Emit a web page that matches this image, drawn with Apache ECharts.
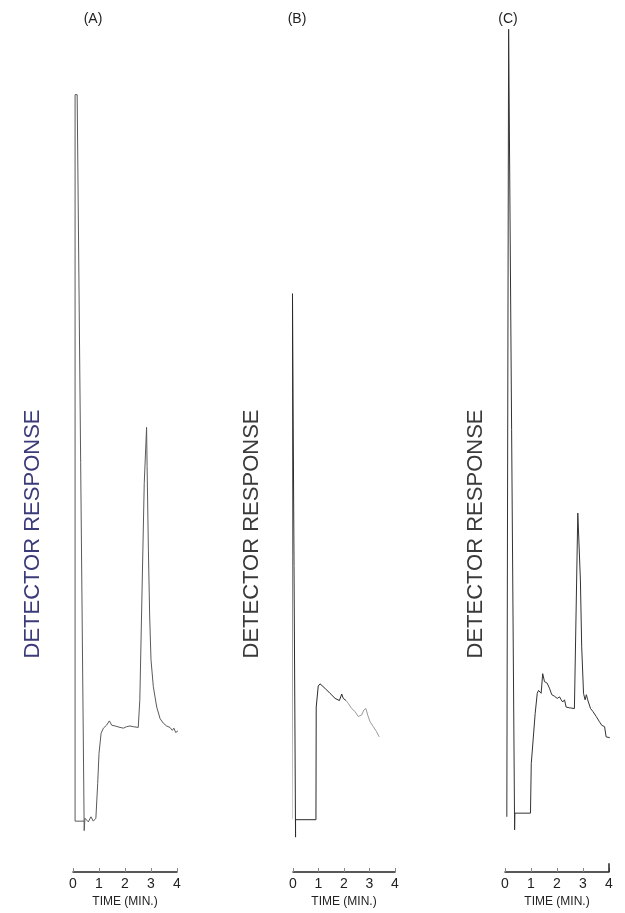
<!DOCTYPE html>
<html>
<head>
<meta charset="utf-8">
<style>
  html, body { margin: 0; padding: 0; background: #fff; }
  #chart { width: 625px; height: 913px; }
</style>
<script src="https://cdn.jsdelivr.net/npm/echarts@6/dist/echarts.min.js"></script>
</head>
<body>
<div id="chart"></div>
<script>
// Three chromatograms: detector response against retention time (minutes)
const panelNames = ['(A)', '(B)', '(C)'];
const axisTitle = 'DETECTOR RESPONSE';
const timeTitle = 'TIME (MIN.)';
const timeTicks = [0, 1, 2, 3, 4];

// (A)
const timeA = [0.43, 0.08, 0.08, 0.16, 0.43, 0.46, 0.59, 0.69, 0.78, 0.88, 0.95, 1.00, 1.08, 1.17, 1.29, 1.40, 1.49, 1.62, 1.81, 1.94, 2.06, 2.19, 2.32, 2.51, 2.55, 2.57, 2.74, 2.83, 2.85, 2.90, 2.95, 3.00, 3.09, 3.22, 3.35, 3.47, 3.60, 3.73, 3.82, 3.88, 3.95, 4.03, 4.12];
const respA = [0, 0, 100, 100, -1.3, 0.4, -0.1, 0.6, 0, 0.4, 5.2, 9.3, 12.1, 12.8, 13.2, 13.8, 13.2, 13.1, 12.9, 12.8, 13.0, 13.1, 13.0, 12.9, 12.9, 16.7, 46.5, 54.2, 48.8, 37.3, 28.1, 22.2, 18.5, 15.7, 14.1, 13.5, 13.1, 12.9, 12.5, 12.8, 12.2, 12.4, 12.2];

// (B) — the later part of the trace is printed faintly
const timeB = [-0.05, -0.02, 0.10, 0.10, 0.90, 0.91, 0.99, 1.06, 1.25, 1.45, 1.65, 1.82, 1.91, 1.97, 2.08, 2.17, 2.30, 2.43, 2.56, 2.69, 2.78, 2.86, 2.93, 3.02, 3.15, 3.28, 3.38];
const respB = [0.3, 72.6, -2.2, 0.2, 0.2, 15.7, 18.6, 18.9, 18.3, 17.6, 16.9, 16.6, 17.5, 16.9, 16.6, 16.2, 15.5, 15.1, 14.4, 14.6, 15.3, 15.5, 14.6, 13.7, 13.0, 12.3, 11.6];
const fadeFromB = 14; // index where the faint stretch starts

// (C)
const timeC = [0.07, 0.14, 0.37, 0.38, 0.98, 1.01, 1.16, 1.24, 1.29, 1.39, 1.45, 1.52, 1.62, 1.71, 1.80, 1.90, 2.01, 2.10, 2.16, 2.22, 2.29, 2.35, 2.48, 2.67, 2.71, 2.80, 2.84, 2.90, 2.95, 3.02, 3.08, 3.13, 3.18, 3.29, 3.38, 3.51, 3.63, 3.72, 3.83, 3.89, 4.02, 4.15, 4.21, 4.31, 4.37, 4.47, 4.60];
const respC = [0.6, 109, -1.2, 1.1, 1.1, 7.9, 14.8, 17.6, 18.0, 17.6, 20.3, 19.2, 19.0, 18.3, 17.4, 17.2, 16.9, 17.1, 16.7, 16.4, 16.7, 15.7, 15.6, 15.5, 15.5, 42.4, 42.4, 33.2, 24.0, 17.6, 16.7, 17.4, 16.7, 15.5, 15.1, 14.4, 13.7, 13.2, 13.0, 11.6, 11.5, 11.7, 10.9, 11.1, 10.7, 10.0, 9.8];

const pairs = (t, v) => t.map((x, i) => [x, v[i]]);

const FONT = 'Liberation Sans, Arial, sans-serif';
const pointsB = pairs(timeB, respB);
const panels = [
  { left: 73,  width: 104, traces: [[pairs(timeA, respA), '#5a5a5a']], labelX: 33,  labelColor: '#3b3b7a', nameX: 93 },
  { left: 293, width: 102, traces: [[pointsB.slice(0, fadeFromB + 1), '#2a2a2a'], [pointsB.slice(fadeFromB), '#9a9a9a']], labelX: 252, labelColor: '#3a3a3a', nameX: 297 },
  { left: 505, width: 104, traces: [[pairs(timeC, respC), '#333333']], labelX: 476, labelColor: '#3a3a3a', nameX: 508 }
];

const grids = [], xAxes = [], yAxes = [], series = [], graphics = [];
panels.forEach((p, i) => {
  grids.push({ left: p.left, width: p.width, top: 22, height: 850 });
  xAxes.push({
    gridIndex: i, type: 'value', min: timeTicks[0], max: timeTicks[timeTicks.length - 1], interval: 1,
    axisLine: { onZero: false, lineStyle: { color: '#222', width: 1.5 } },
    axisTick: { inside: true, length: 4, lineStyle: { color: '#888', width: 1 } },
    axisLabel: { fontFamily: FONT, fontSize: 14, color: '#222', margin: 5 },
    splitLine: { show: false },
    name: timeTitle, nameLocation: 'middle', nameGap: 23,
    nameTextStyle: { fontFamily: FONT, fontSize: 12, color: '#222' }
  });
  yAxes.push({ gridIndex: i, type: 'value', min: -7, max: 110, show: false });
  p.traces.forEach(([pts, col]) => {
    series.push({
      type: 'line', xAxisIndex: i, yAxisIndex: i, data: pts,
      showSymbol: false, clip: false, animation: false,
      lineStyle: { color: col, width: 1 }
    });
  });
  graphics.push({
    type: 'text', x: p.nameX, y: 19,
    style: { text: panelNames[i], font: '14px ' + FONT, fill: '#222', align: 'center', verticalAlign: 'middle' }
  });
  graphics.push({
    type: 'text', x: p.labelX, y: 534, rotation: Math.PI / 2,
    style: { text: axisTitle, font: '22px ' + FONT, fill: p.labelColor, align: 'center', verticalAlign: 'middle' }
  });
});

// end bracket on the (C) time scale
series[series.length - 1].markLine = {
  silent: true, symbol: 'none', animation: false, label: { show: false },
  lineStyle: { color: '#222', width: 1.5, type: 'solid' },
  data: [[{ coord: [timeTicks[4], -7] }, { coord: [timeTicks[4], -5.8] }]]
};

const chart = echarts.init(document.getElementById('chart'), null, { renderer: 'canvas' });
chart.setOption({
  backgroundColor: '#fff',
  animation: false,
  grid: grids, xAxis: xAxes, yAxis: yAxes, series: series,
  graphic: graphics
});
</script>
</body>
</html>
